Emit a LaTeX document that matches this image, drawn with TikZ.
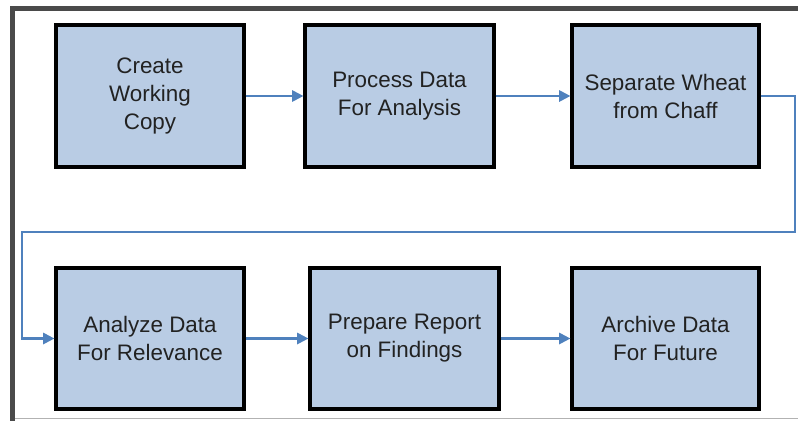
\documentclass[tikz,border=0pt]{standalone}
\usepackage{fontspec}
\setmainfont{Liberation Sans}
\usetikzlibrary{arrows.meta}
\definecolor{boxfill}{HTML}{B9CCE4}
\definecolor{conn}{HTML}{4F81BD}
\definecolor{txt}{HTML}{222222}
\definecolor{frame}{HTML}{4A4A4A}
\tikzset{
  stepbox/.style={draw=black, line width=2.4pt, fill=boxfill, rectangle, inner sep=0pt,
    align=center, text=txt, font=\fontsize{16.8pt}{21pt}\selectfont},
  connector/.style={draw=conn, line width=1.6pt, -{Triangle[length=8.5pt,width=8.5pt]}},
}
\begin{document}
\begin{tikzpicture}[x=0.75pt,y=-0.75pt]
\useasboundingbox (0,0) rectangle (798,421);
% frame
\fill[frame] (10,6) rectangle (15,421);
\fill[frame] (10,6) rectangle (798,11);
\draw[gray!60, line width=1.2pt] (15,418.5) -- (798,418.5);
% boxes
\node[stepbox, minimum width={188*0.75pt}, minimum height={142*0.75pt}] (b1) at (150,96) {Create\\Working\\Copy};
\node[stepbox, minimum width={189*0.75pt}, minimum height={142*0.75pt}] (b2) at (399.5,96) {Process Data\\For Analysis};
\node[stepbox, minimum width={187*0.75pt}, minimum height={142*0.75pt}] (b3) at (665.5,96) {Separate Wheat\\from Chaff};
\node[stepbox, minimum width={188*0.75pt}, minimum height={141*0.75pt}] (b4) at (150,338.5) {Analyze Data\\For Relevance};
\node[stepbox, minimum width={189*0.75pt}, minimum height={141*0.75pt}] (b5) at (404.5,338.5) {Prepare Report\\on Findings};
\node[stepbox, minimum width={187*0.75pt}, minimum height={141*0.75pt}] (b6) at (665.5,338.5) {Archive Data\\For Future};
% connectors
\coordinate (k1) at (795,232);
\coordinate (k2) at (22,232);
\draw[connector] (b1.east) -- (b2.west);
\draw[connector] (b2.east) -- (b3.west);
\draw[connector] (b3.east) -| (k1) -- (k2) |- (b4.west);
\draw[connector] (b4.east) -- (b5.west);
\draw[connector] (b5.east) -- (b6.west);
\end{tikzpicture}
\end{document}
